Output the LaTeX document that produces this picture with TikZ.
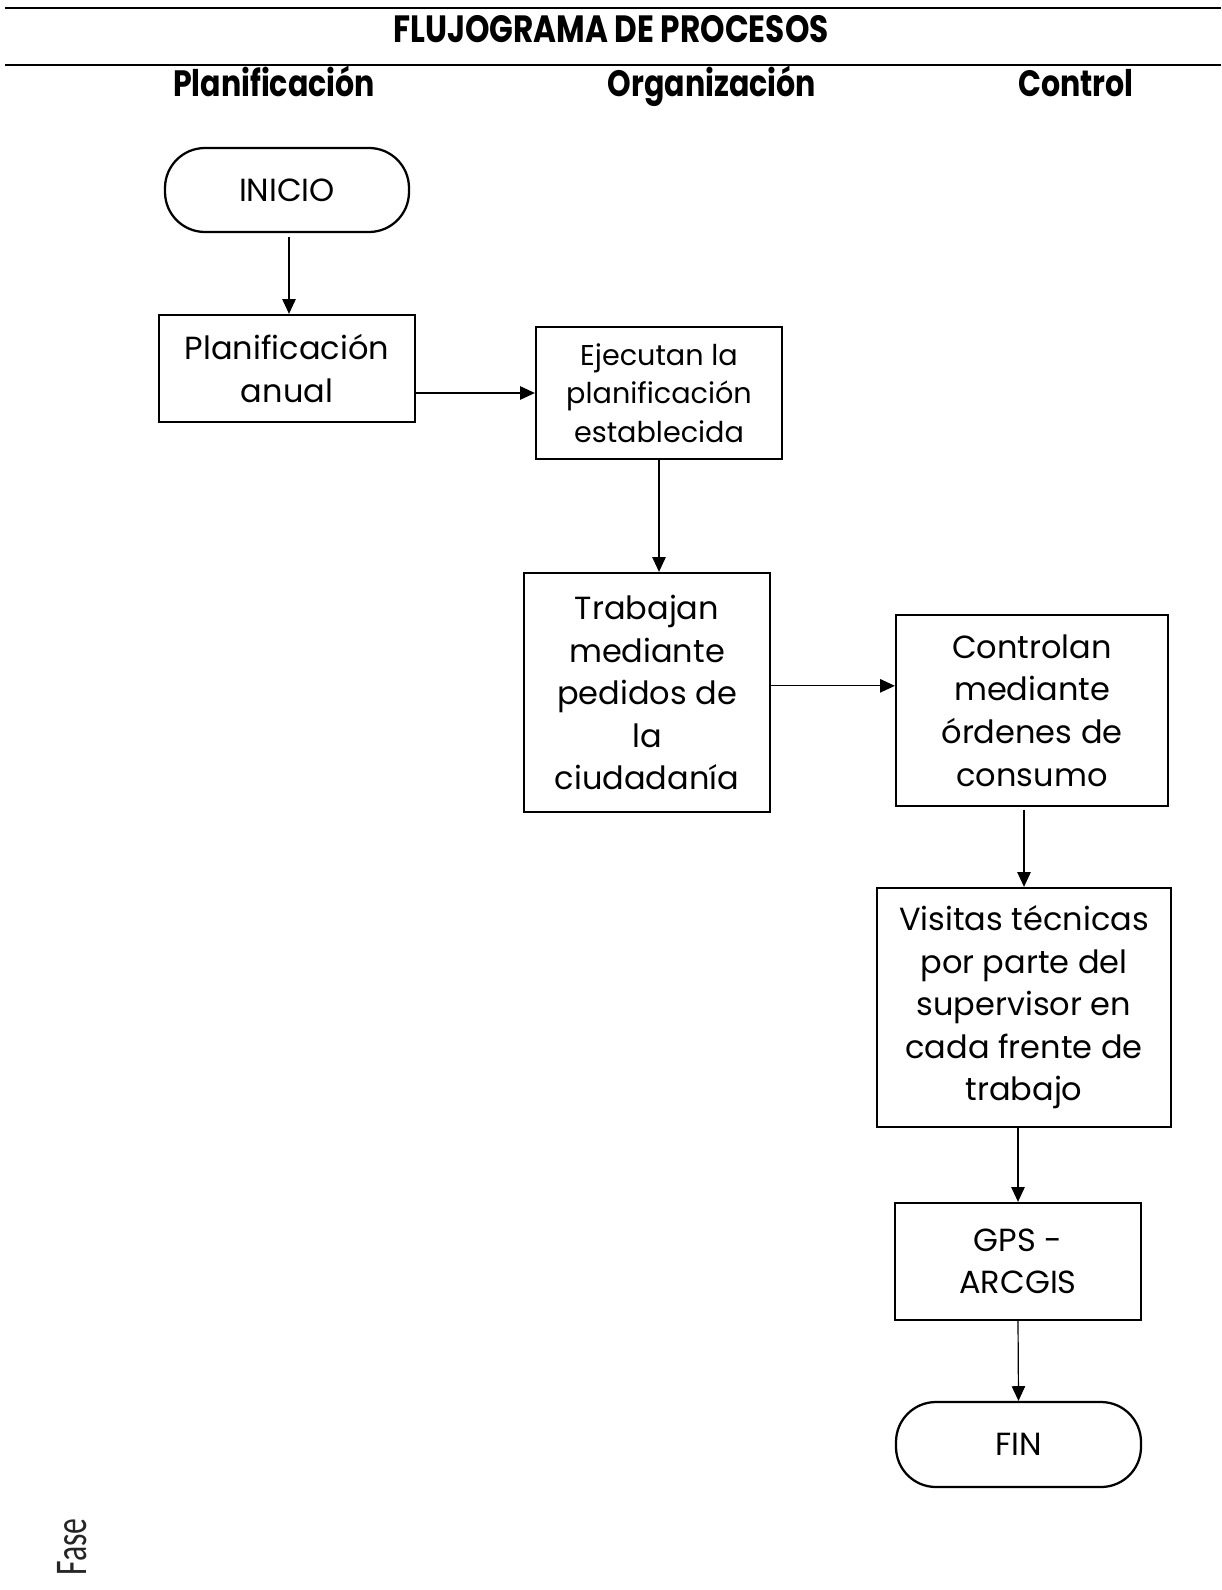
\documentclass[tikz,border=0pt]{standalone}
\usepackage{fontspec}
\setmainfont{Poppins}
\newfontfamily\hdrfont[FakeStretch=0.82]{Poppins}
\newfontfamily\fasefont[FakeStretch=0.7]{Carlito}
\usetikzlibrary{arrows.meta}
\begin{document}
\begin{tikzpicture}[x=0.75pt,y=-0.75pt,
  box/.style={draw,line width=1.7pt,align=center,inner sep=0pt,
    font=\fontsize{24}{31.9}\selectfont},
  term/.style={box,rounded corners=30pt},
  hdr/.style={anchor=base,font=\hdrfont\bfseries\fontsize{27.5}{32}\selectfont},
  arr/.style={line width=0.9pt,-{Triangle[length=11pt,width=10pt]}}]
\useasboundingbox (0,0) rectangle (1221,1590);
% top rules and headers
\coordinate (l1a) at (5,8);   \coordinate (l1b) at (1221,8);
\coordinate (l2a) at (5,65);  \coordinate (l2b) at (1221,65);
\draw[line width=2.2pt] (l1a) -- (l1b);
\draw[line width=2.2pt] (l2a) -- (l2b);
\node[hdr,font=\hdrfont\bfseries\fontsize{28.5}{32}\selectfont] (title) at (611,42.5) {FLUJOGRAMA DE PROCESOS};
\node[hdr] (hplan) at (274,97) {Planificación};
\node[hdr] (horg) at (712,97) {Organización};
\node[hdr] (hctl) at (1076,97) {Control};
% nodes
\node[term,minimum width=183pt,minimum height=63pt] (inicio) at (287,190) {INICIO};
\node[box,minimum width=192pt,minimum height=80.25pt] (plan) at (287,368.5) {Planificación\\anual};
\node[box,minimum width=184.5pt,minimum height=99pt,font=\fontsize{21.5}{28.9}\selectfont] (ejec) at (659,393) {Ejecutan la\\planificación\\establecida};
\node[box,minimum width=184.5pt,minimum height=179.25pt] (trab) at (647,692.5) {Trabajan\\mediante\\pedidos de\\la\\ciudadanía};
\node[box,minimum width=204pt,minimum height=143.25pt] (contr) at (1032,710.5) {Controlan\\mediante\\órdenes de\\consumo};
\node[box,minimum width=220.5pt,minimum height=179.25pt] (visit) at (1024,1007.5) {Visitas técnicas\\por parte del\\supervisor en\\cada frente de\\trabajo};
\node[box,minimum width=184.5pt,minimum height=87.75pt] (gps) at (1018,1261.5) {GPS -\\ARCGIS};
\node[term,minimum width=183.75pt,minimum height=63.75pt] (fin) at (1018.5,1444.5) {FIN};
\node[rotate=90,font=\fasefont\fontsize{34}{40}\selectfont,text=black!85] (fase) at (72,1547) {Fase};
% connectors
\draw[arr] ([xshift=1.5pt,yshift=-3pt]inicio.south) -- ([xshift=1.5pt]plan.north);
\draw[arr] (plan.east |- ejec.west) -- (ejec.west);
\draw[arr] (ejec.south) -- (ejec.south |- trab.north);
\draw[arr] ([yshift=5pt]trab.east) -- ([yshift=5pt]trab.east -| contr.west);
\draw[arr] ([yshift=-2pt]visit.north |- contr.south) -- (visit.north);
\draw[arr] (gps.north |- visit.south) -- (gps.north);
\draw[arr] (gps.south) -- (fin.north);
\end{tikzpicture}
\end{document}
